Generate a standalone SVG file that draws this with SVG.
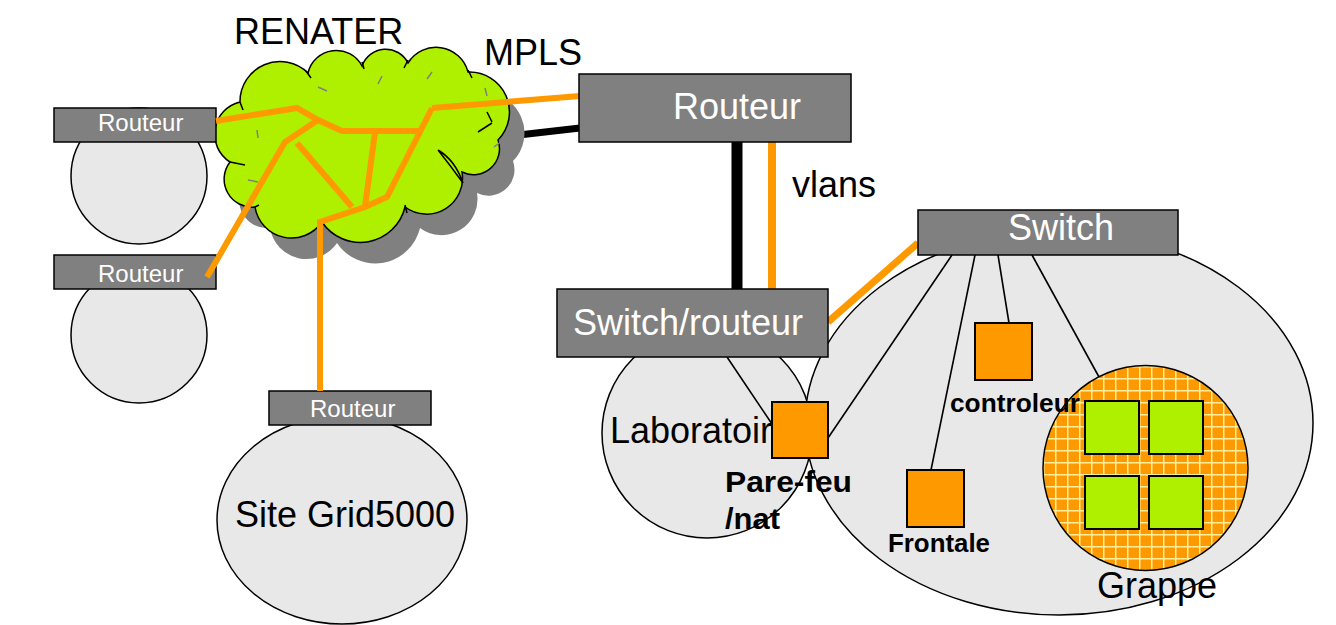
<svg xmlns="http://www.w3.org/2000/svg" width="1336" height="625" viewBox="0 0 1336 625">
<style>
text{font-family:"Liberation Sans",Arial,sans-serif}
.big{font-size:36px;fill:#000}
.wbig{font-size:36px;fill:#fff}
.wsm{font-size:24px;fill:#fff}
.bold{font-size:26px;font-weight:bold;fill:#000}
.box{fill:#808080;stroke:#000;stroke-width:1.5}
.site{fill:#e8e8e8;stroke:#000;stroke-width:1.5}
.sq{fill:#ff9900;stroke:#000;stroke-width:2}
.gsq{fill:#aef000;stroke:#000;stroke-width:2}
.or{stroke:#ff9900;stroke-width:6;fill:none;stroke-linejoin:miter}
.thin{stroke:#000;stroke-width:1.6;fill:none}
.dash{stroke:#808080;stroke-width:1.5;fill:none}
.crease{stroke:#000;stroke-width:1.5;fill:none}
</style>
<defs>
<pattern id="grid" patternUnits="userSpaceOnUse" width="12" height="12" x="1043" y="366">
<rect width="12" height="12" fill="#ff9900"/>
<path d="M0 0.5H12M0.5 0V12" stroke="#ffef9a" stroke-width="2"/>
</pattern>
<path id="cloudp" d="M240 102 A40 40 0 0 1 308 73 A29 29 0 0 1 362 66 A25 25 0 0 1 408 63 A33 33 0 0 1 468 72 A40 40 0 0 1 498 140 A26 26 0 0 1 462 172 A36 36 0 0 1 405 207 A46 46 0 0 1 322 222 A37 37 0 0 1 255 207 A28 28 0 0 1 230 162 A33 33 0 0 1 240 102 Z"/>
</defs>
<rect width="1336" height="625" fill="#fff"/>

<line x1="510" y1="136" x2="580" y2="128" stroke="#000" stroke-width="7"/>

<g id="renater">
<use href="#cloudp" fill="#808080" transform="translate(15,21)"/>
<use href="#cloudp" fill="#aef000" stroke="#000" stroke-width="1.5"/>
<path class="crease" d="M306 71 L311 78 M362 62 L364 69 M408 60 L404 68 M468 70 L472 78 M487 112 L492 122 M478 132 L492 123 M438 150 Q455 160 463 183 Q450 165 438 150 M405 205 L407 213 M255 207 L259 205 M230 162 L245 165 M240 102 L243 110"/>
<path class="dash" d="M318 87 L327 91 M382 76 L378 84 M432 72 L427 79 M485 88 L487 96 M257 130 L258 138 M248 180 L258 182 M494 147 L502 141"/>
<text class="big" x="234" y="44">RENATER</text>
<text class="big" x="484" y="65">MPLS</text>
</g>

<g id="site1">
<circle class="site" cx="139" cy="176" r="68"/>
<rect class="box" x="54" y="108" width="162" height="34"/>
<text class="wsm" x="98" y="131">Routeur</text>
</g>
<g id="site2">
<circle class="site" cx="139" cy="335" r="68"/>
<rect class="box" x="54" y="255" width="162" height="34"/>
<text class="wsm" x="98" y="282">Routeur</text>
</g>
<g id="site-grid5000">
<ellipse class="site" cx="342" cy="520" rx="125" ry="104"/>
<rect class="box" x="269" y="391" width="162" height="34"/>
<text class="wsm" x="310" y="417">Routeur</text>
<text class="big" x="235" y="527">Site Grid5000</text>
</g>

<g id="laboratoire">
<ellipse class="site" cx="707" cy="433" rx="105" ry="105"/>
<text class="big" x="610" y="443">Laboratoire</text>
</g>

<g id="grappe">
<ellipse class="site" cx="1059" cy="423" rx="254" ry="192"/>
<text class="big" x="1097" y="598">Grappe</text>
</g>

<g id="connectors">
<path class="or" d="M216 121 L297 108 L318 120 L342 131 L420 131"/>
<path class="or" d="M432 108 L580 96"/>
<path class="or" d="M318 120 L285 142 L207 277"/>
<path class="or" d="M297 143 L352 207"/>
<path class="or" d="M375 132 L365 207"/>
<path class="or" d="M432 108 L387 197 L365 207 L320 222 L320 391"/>
<line x1="737" y1="142" x2="737" y2="289" stroke="#000" stroke-width="11"/>
<line x1="772" y1="142" x2="772" y2="289" stroke="#ff9900" stroke-width="8"/>
<line x1="918" y1="243" x2="828" y2="322" stroke="#ff9900" stroke-width="7"/>
<line class="thin" x1="727" y1="357" x2="772" y2="424"/>
<line class="thin" x1="952" y1="255" x2="828" y2="438"/>
<line class="thin" x1="975" y1="255" x2="931" y2="470"/>
<line class="thin" x1="998" y1="255" x2="1009" y2="323"/>
<line class="thin" x1="1032" y1="255" x2="1099" y2="377"/>
</g>

<g id="cluster">
<circle cx="1145.5" cy="468" r="102.5" fill="url(#grid)" stroke="#000" stroke-width="1.5"/>
<rect class="gsq" x="1085" y="401" width="54" height="53"/>
<rect class="gsq" x="1149" y="401" width="54" height="53"/>
<rect class="gsq" x="1085" y="476" width="54" height="53"/>
<rect class="gsq" x="1149" y="476" width="54" height="53"/>
</g>

<g id="routeur">
<rect class="box" x="579" y="74" width="272" height="68"/>
<text class="wbig" x="673" y="119">Routeur</text>
<text class="big" x="792" y="197">vlans</text>
</g>

<g id="switch">
<rect class="box" x="918" y="210" width="260" height="45"/>
<text class="wbig" x="1008" y="240">Switch</text>
</g>

<g id="switch-routeur">
<rect class="box" x="557" y="289" width="271" height="68"/>
<text class="wbig" x="573" y="335">Switch/routeur</text>
</g>

<g id="pare-feu">
<rect class="sq" x="772" y="402" width="56" height="56"/>
<text class="bold" x="725" y="492" textLength="127" lengthAdjust="spacingAndGlyphs" style="font-size:29px">Pare-feu</text>
<text class="bold" x="725" y="529" textLength="55" lengthAdjust="spacingAndGlyphs" style="font-size:29px">/nat</text>
</g>

<g id="controleur">
<rect class="sq" x="975" y="323" width="57" height="57"/>
<text class="bold" x="950" y="412" textLength="130" lengthAdjust="spacingAndGlyphs">controleur</text>
</g>

<g id="frontale">
<rect class="sq" x="907" y="470" width="57" height="57"/>
<text class="bold" x="888" y="552" textLength="102" lengthAdjust="spacingAndGlyphs">Frontale</text>
</g>
</svg>
